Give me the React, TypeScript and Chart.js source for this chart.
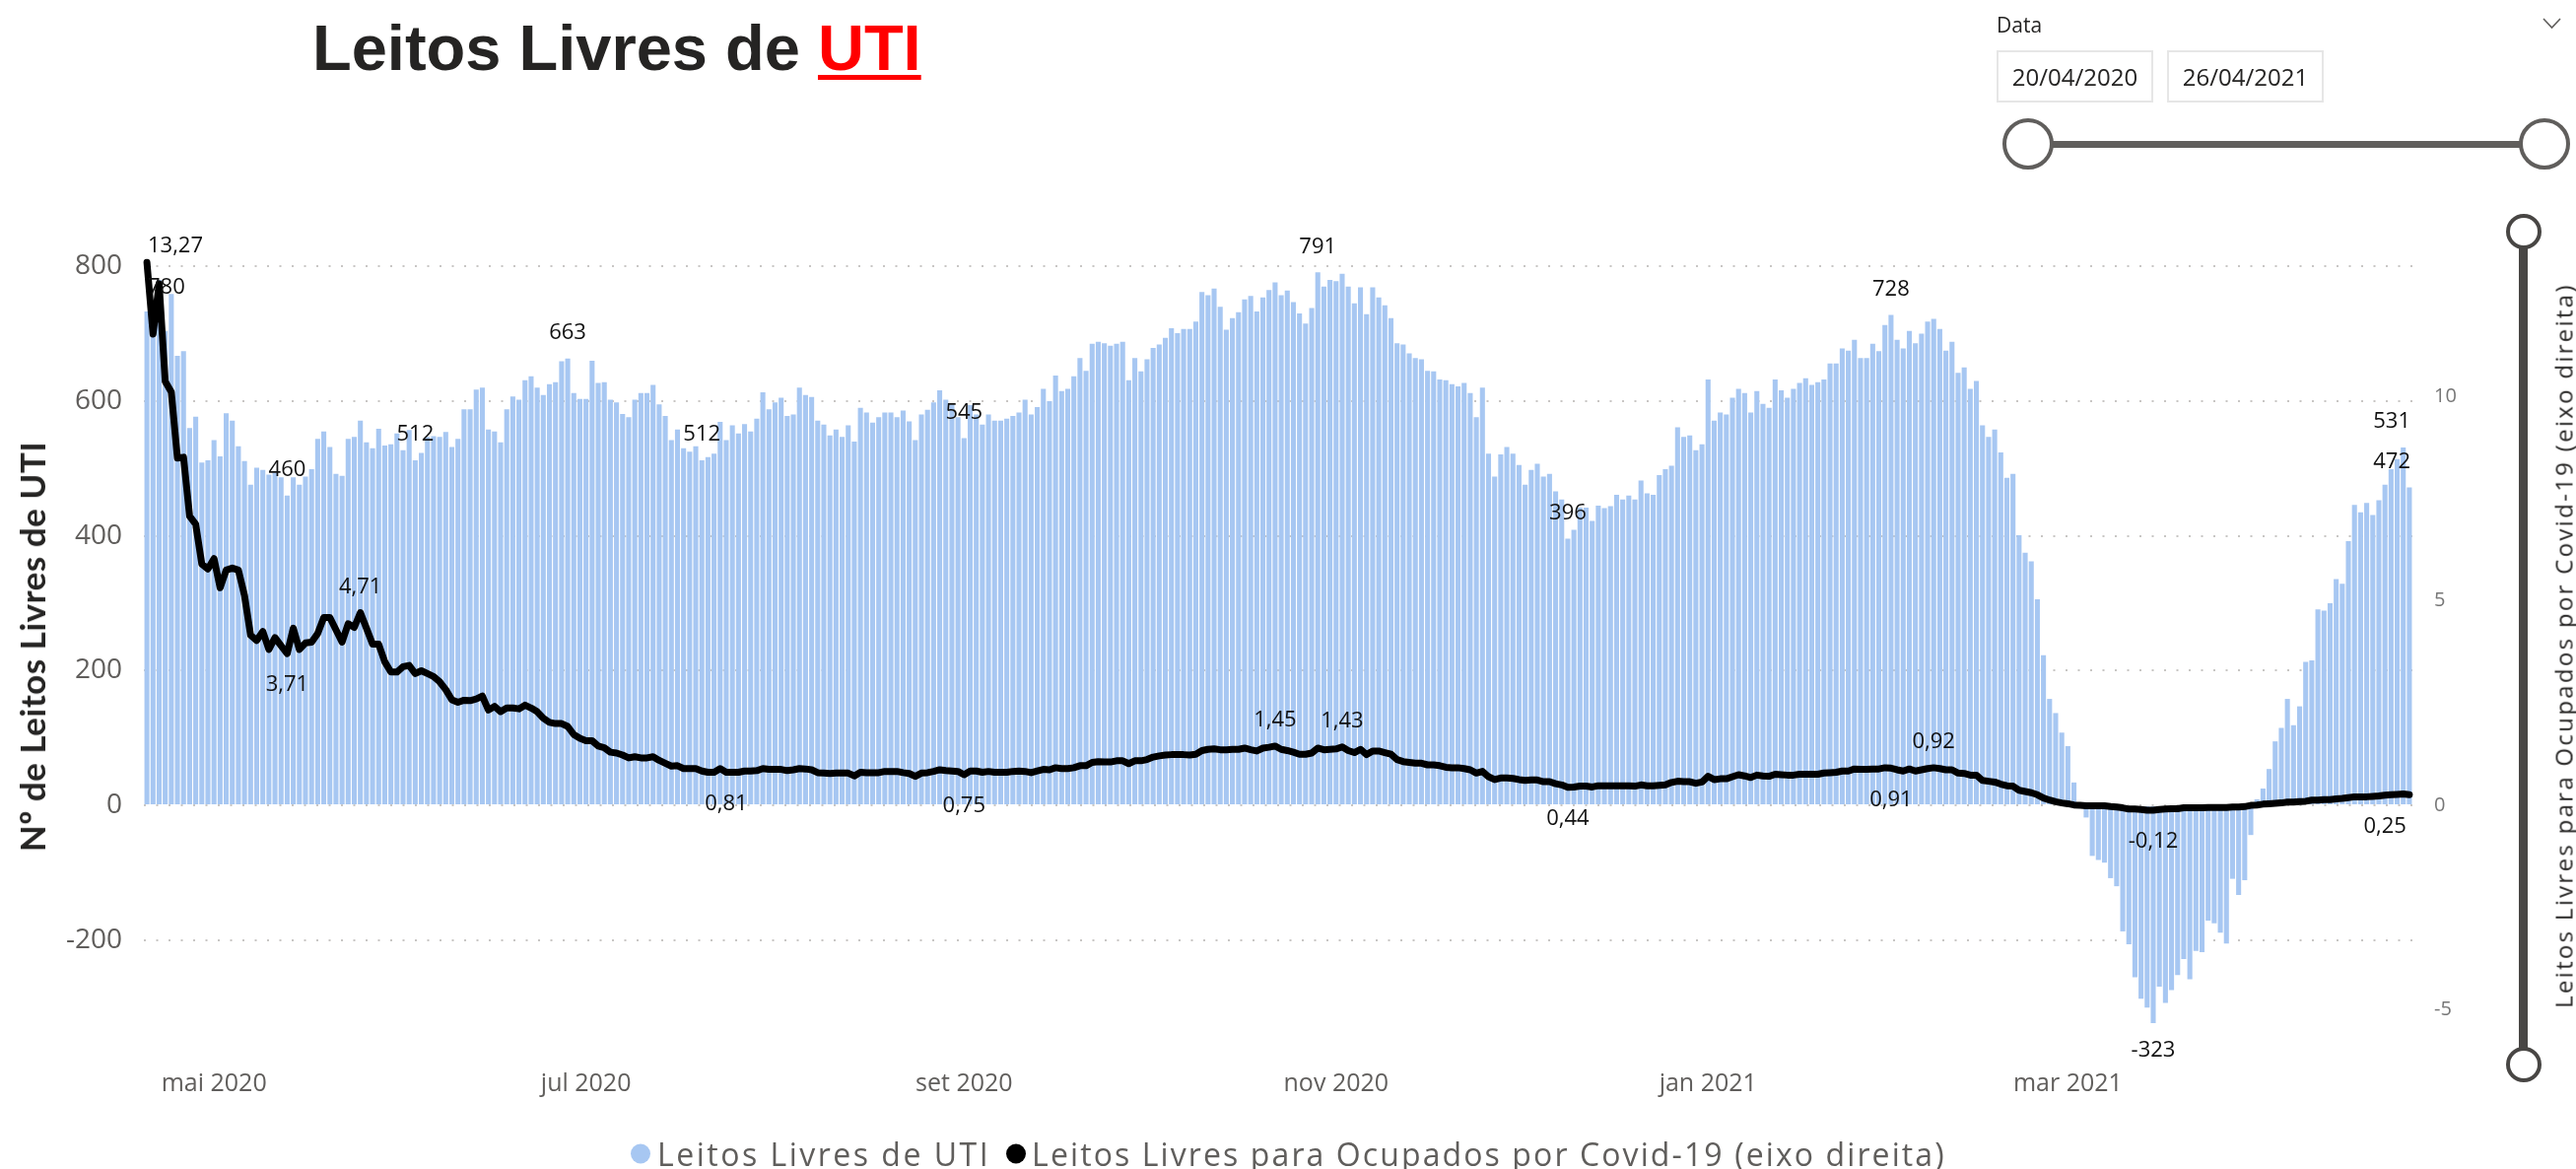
import React, { useEffect, useRef } from "react";
import { Chart, registerables } from "chart.js";

Chart.register(...registerables);

// ---------- categorias (dias de 20/04/2020 a 26/04/2021) ----------
const INICIO = Date.UTC(2020, 3, 20);
const DIA = 86400000;
const MESES = ["jan", "fev", "mar", "abr", "mai", "jun", "jul", "ago", "set", "out", "nov", "dez"];
const MESES_NO_EIXO = [0, 2, 4, 6, 8, 10];

// ---------- Leitos Livres de UTI (eixo esquerdo) ----------
const leitosAbrJun = [733, 700, 780, 704, 759, 667, 674, 560, 577, 509, 512, 542, 518, 582, 571, 533, 511, 476, 501, 498, 491, 494, 487, 460, 487, 476, 488, 499, 544, 555, 532, 492, 489, 544, 547, 571, 539, 530, 559, 534, 536, 552, 527, 557, 512, 523, 547, 548, 547, 554, 532, 544, 588, 588, 617, 620, 558, 555, 539, 588, 607, 602];
const leitosJunAgo = [631, 637, 620, 609, 625, 628, 659, 663, 612, 603, 603, 660, 627, 628, 602, 598, 581, 576, 602, 612, 612, 624, 595, 578, 542, 558, 530, 525, 533, 512, 517, 522, 569, 542, 564, 552, 566, 555, 574, 613, 588, 598, 605, 578, 580, 620, 609, 606, 571, 565, 549, 558, 547, 564, 540, 590, 583, 568, 576, 583, 583, 576, 586];
const leitosAgoOut = [570, 542, 580, 587, 598, 616, 602, 595, 576, 545, 594, 580, 565, 580, 571, 571, 574, 578, 583, 602, 580, 591, 618, 600, 638, 615, 618, 637, 664, 645, 685, 688, 686, 682, 685, 688, 631, 664, 644, 662, 679, 684, 694, 708, 701, 707, 707, 718, 762, 757, 767, 740, 706, 723, 732, 751, 756, 733, 754, 765, 776, 757, 764];
const leitosOutDez = [747, 730, 715, 738, 791, 770, 780, 778, 789, 770, 745, 769, 729, 769, 754, 742, 723, 686, 684, 671, 664, 662, 645, 644, 632, 631, 625, 622, 627, 612, 576, 620, 522, 488, 521, 532, 522, 505, 476, 498, 507, 488, 492, 466, 454, 396, 409, 442, 442, 422, 445, 441, 444, 461, 454, 460, 454, 482, 463, 461, 490, 499, 504];
const leitosDezFev = [561, 547, 549, 527, 536, 632, 571, 583, 580, 605, 618, 612, 583, 615, 596, 590, 632, 616, 605, 618, 627, 634, 624, 628, 632, 656, 656, 678, 675, 691, 664, 664, 685, 674, 713, 728, 691, 678, 704, 686, 700, 718, 722, 707, 675, 688, 642, 650, 618, 630, 564, 547, 558, 524, 486, 492, 401, 375, 362, 306, 223, 158, 137];
const leitosFevAbr = [108, 88, 34, 3, -18, -75, -81, -85, -108, -120, -187, -206, -255, -287, -300, -323, -269, -293, -274, -252, -228, -258, -216, -218, -171, -175, -189, -205, -109, -133, -111, -44, 9, 25, 54, 95, 115, 158, 119, 147, 213, 215, 291, 289, 300, 336, 329, 392, 446, 435, 449, 431, 453, 476, 499, 514, 531, 472];

// ---------- Leitos Livres para Ocupados por Covid-19 (eixo direito) ----------
const covidAbrJun = [13.27, 11.52, 12.75, 10.36, 10.1, 8.49, 8.51, 7.07, 6.87, 5.9, 5.78, 6.03, 5.32, 5.75, 5.8, 5.75, 5.13, 4.16, 4.03, 4.25, 3.81, 4.1, 3.9, 3.71, 4.33, 3.81, 3.97, 3.99, 4.2, 4.59, 4.59, 4.29, 3.99, 4.44, 4.35, 4.71, 4.33, 3.94, 3.94, 3.51, 3.26, 3.26, 3.39, 3.42, 3.22, 3.29, 3.22, 3.15, 3.02, 2.83, 2.58, 2.52, 2.57, 2.56, 2.6, 2.67, 2.33, 2.42, 2.29, 2.38, 2.38, 2.36];
const covidJunAgo = [2.45, 2.38, 2.29, 2.13, 2.03, 2.0, 2.0, 1.93, 1.73, 1.64, 1.58, 1.58, 1.45, 1.41, 1.3, 1.28, 1.23, 1.16, 1.19, 1.16, 1.16, 1.19, 1.1, 1.03, 0.96, 0.97, 0.9, 0.9, 0.9, 0.84, 0.81, 0.81, 0.9, 0.81, 0.81, 0.81, 0.84, 0.84, 0.85, 0.9, 0.88, 0.88, 0.88, 0.85, 0.87, 0.9, 0.89, 0.87, 0.8, 0.79, 0.78, 0.79, 0.79, 0.79, 0.72, 0.81, 0.8, 0.8, 0.8, 0.83, 0.83, 0.83, 0.8];
const covidAgoOut = [0.78, 0.71, 0.79, 0.8, 0.83, 0.87, 0.85, 0.84, 0.83, 0.75, 0.84, 0.84, 0.81, 0.83, 0.81, 0.81, 0.81, 0.83, 0.84, 0.83, 0.8, 0.84, 0.88, 0.87, 0.92, 0.9, 0.9, 0.92, 0.97, 0.97, 1.05, 1.07, 1.06, 1.06, 1.09, 1.09, 1.02, 1.09, 1.09, 1.12, 1.18, 1.21, 1.23, 1.24, 1.24, 1.24, 1.23, 1.25, 1.34, 1.37, 1.38, 1.36, 1.36, 1.37, 1.37, 1.4, 1.36, 1.33, 1.4, 1.42, 1.45, 1.37, 1.34];
const covidOutDez = [1.3, 1.25, 1.25, 1.28, 1.4, 1.36, 1.37, 1.38, 1.43, 1.34, 1.29, 1.37, 1.24, 1.33, 1.33, 1.29, 1.25, 1.12, 1.07, 1.05, 1.03, 1.03, 0.99, 0.99, 0.97, 0.93, 0.92, 0.92, 0.9, 0.87, 0.79, 0.83, 0.7, 0.63, 0.67, 0.67, 0.66, 0.63, 0.61, 0.62, 0.62, 0.58, 0.58, 0.53, 0.5, 0.44, 0.45, 0.47, 0.47, 0.45, 0.48, 0.48, 0.48, 0.48, 0.48, 0.48, 0.47, 0.5, 0.48, 0.48, 0.49, 0.5, 0.56];
const covidDezFev = [0.59, 0.58, 0.58, 0.54, 0.57, 0.71, 0.63, 0.65, 0.65, 0.7, 0.75, 0.72, 0.68, 0.74, 0.72, 0.71, 0.76, 0.75, 0.74, 0.74, 0.76, 0.76, 0.76, 0.76, 0.79, 0.8, 0.81, 0.84, 0.84, 0.89, 0.88, 0.88, 0.89, 0.89, 0.92, 0.91, 0.87, 0.84, 0.89, 0.84, 0.87, 0.9, 0.92, 0.9, 0.87, 0.87, 0.79, 0.78, 0.74, 0.74, 0.61, 0.59, 0.57, 0.52, 0.48, 0.47, 0.37, 0.34, 0.31, 0.26, 0.18, 0.13, 0.09];
const covidFevAbr = [0.06, 0.04, 0.01, 0.0, -0.01, -0.01, -0.01, -0.01, -0.03, -0.04, -0.06, -0.09, -0.09, -0.1, -0.12, -0.12, -0.1, -0.09, -0.08, -0.08, -0.06, -0.06, -0.06, -0.06, -0.05, -0.05, -0.05, -0.05, -0.04, -0.04, -0.03, 0.0, 0.01, 0.03, 0.04, 0.05, 0.06, 0.08, 0.08, 0.09, 0.1, 0.13, 0.13, 0.14, 0.14, 0.16, 0.17, 0.19, 0.21, 0.21, 0.21, 0.22, 0.23, 0.25, 0.26, 0.27, 0.28, 0.26];

// ---------- eixos ----------
const ticksEsquerdo = [-200, 0, 200, 400, 600, 800];
const ticksDireito = [-5, 0, 5, 10];
const ESQ_MIN = -329;
const ESQ_MAX = 812;
const RAZAO_EIXOS = 60.72;

// ---------- rótulos de dados exibidos ----------
const rotulosBarras = [2, 23, 44, 69, 91, 134, 192, 233, 286, 329, 370, 371];
const rotulosLinha = [0, 23, 35, 95, 134, 185, 196, 233, 286, 293, 329, 367];
const ladoRotuloLinha = ["acima", "abaixo", "acima", "abaixo", "abaixo", "acima", "acima", "abaixo", "abaixo", "acima", "abaixo", "abaixo"];
const rotuloBarraInterno = [2];

const leitos = [...leitosAbrJun, ...leitosJunAgo, ...leitosAgoOut, ...leitosOutDez, ...leitosDezFev, ...leitosFevAbr];
const covid = [...covidAbrJun, ...covidJunAgo, ...covidAgoOut, ...covidOutDez, ...covidDezFev, ...covidFevAbr];

const pad2 = (n: number) => String(n).padStart(2, "0");
const datas = leitos.map((_, i) => new Date(INICIO + i * DIA));
const categorias = datas.map((d) => `${pad2(d.getUTCDate())}/${pad2(d.getUTCMonth() + 1)}/${d.getUTCFullYear()}`);
const marcasMes = datas
  .map((d, i) => (d.getUTCDate() === 1 && MESES_NO_EIXO.includes(d.getUTCMonth()) ? i : -1))
  .filter((i) => i >= 0);

const AZUL = "#A7C7F2";
const CINZA_TXT = "#605E5C";
const FONTE = '"Open Sans", "Noto Sans", sans-serif';

const rotulosPlugin = {
  id: "rotulosPbi",
  afterDatasetsDraw(chart: any) {
    const ctx = chart.ctx as CanvasRenderingContext2D;
    const area = chart.chartArea;
    ctx.save();
    ctx.font = `22px ${FONTE}`;
    ctx.fillStyle = "#111111";
    ctx.textAlign = "center";
    ctx.textBaseline = "middle";
    const posX = (x: number, w: number) => Math.min(Math.max(x, area.left + w / 2 + 4), area.right - w / 2 - 2);
    const metaB = chart.getDatasetMeta(0);
    rotulosBarras.forEach((idx) => {
      const el = metaB.data[idx];
      if (!el) return;
      const v = leitos[idx];
      const txt = String(v);
      const w = ctx.measureText(txt).width;
      let y: number;
      if (rotuloBarraInterno.includes(idx)) y = el.y + 8;
      else if (v < 0) y = el.y + 28;
      else y = el.y - 26;
      y = Math.max(y, area.top - 12);
      ctx.fillText(txt, posX(el.x, w), y);
    });
    const metaL = chart.getDatasetMeta(1);
    rotulosLinha.forEach((idx, k) => {
      const el = metaL.data[idx];
      if (!el) return;
      const txt = covid[idx].toFixed(2).replace(".", ",");
      const w = ctx.measureText(txt).width;
      let y = ladoRotuloLinha[k] === "acima" ? el.y - 26 : el.y + 32;
      y = Math.max(y, area.top - 12);
      ctx.fillText(txt, posX(el.x, w), y);
    });
    ctx.restore();
  },
};

export default function App() {
  const ref = useRef<HTMLCanvasElement>(null);

  useEffect(() => {
    if (!ref.current) return;
    const chart = new Chart(ref.current, {
      type: "bar",
      data: {
        labels: categorias,
        datasets: [
          {
            type: "bar",
            label: "Leitos Livres de UTI",
            data: leitos,
            backgroundColor: AZUL,
            borderWidth: 0,
            barPercentage: 0.82,
            categoryPercentage: 1,
            yAxisID: "y",
            order: 2,
          } as any,
          {
            type: "line",
            label: "Leitos Livres para Ocupados por Covid-19 (eixo direita)",
            data: covid,
            borderColor: "#000000",
            backgroundColor: "#000000",
            borderWidth: 7,
            pointRadius: 0,
            tension: 0,
            borderJoinStyle: "round",
            borderCapStyle: "round",
            yAxisID: "y1",
            order: 1,
          } as any,
        ],
      },
      options: {
        responsive: false,
        animation: false,
        devicePixelRatio: 1,
        events: [],
        layout: { padding: { top: 262, left: 0, right: 0, bottom: 0 } },
        plugins: { legend: { display: false }, tooltip: { enabled: false }, title: { display: false } },
        scales: {
          x: {
            type: "category",
            offset: true,
            grid: { display: false, drawTicks: false },
            border: { display: false },
            afterBuildTicks: (s: any) => {
              s.ticks = marcasMes.map((v) => ({ value: v }));
            },
            afterFit: (s: any) => {
              s.height = 1186 - 1042;
            },
            ticks: {
              autoSkip: false,
              maxRotation: 0,
              minRotation: 0,
              padding: 43,
              color: CINZA_TXT,
              font: { family: FONTE, size: 25 },
              callback: (v: any) => {
                const d = datas[Number(v)];
                return `${MESES[d.getUTCMonth()]} ${d.getUTCFullYear()}`;
              },
            },
          },
          y: {
            type: "linear",
            position: "left",
            min: ESQ_MIN,
            max: ESQ_MAX,
            afterBuildTicks: (s: any) => {
              s.ticks = ticksEsquerdo.map((v) => ({ value: v }));
            },
            afterFit: (s: any) => {
              s.width = 146;
            },
            grid: { color: "#C8C6C4", lineWidth: 2, drawTicks: false },
            border: { display: false, dash: [2, 10.5] },
            ticks: {
              padding: 22,
              color: CINZA_TXT,
              font: { family: FONTE, size: 28 },
              callback: (v: any) => String(v),
            },
          },
          y1: {
            type: "linear",
            position: "right",
            min: ESQ_MIN / RAZAO_EIXOS,
            max: ESQ_MAX / RAZAO_EIXOS,
            afterBuildTicks: (s: any) => {
              s.ticks = ticksDireito.map((v) => ({ value: v }));
            },
            afterFit: (s: any) => {
              s.width = 2614 - 2448;
            },
            grid: { display: false, drawTicks: false },
            border: { display: false },
            ticks: {
              padding: 22,
              color: "#777777",
              font: { family: FONTE, size: 20 },
              callback: (v: any) => String(v),
            },
          },
        },
      } as any,
      plugins: [rotulosPlugin],
    });
    return () => chart.destroy();
  }, []);

  const abs = (s: React.CSSProperties): React.CSSProperties => ({ position: "absolute", ...s });
  const circulo = (cx: number, cy: number, d: number, b: number, cor: string) => (
    <div
      style={abs({
        left: cx - d / 2,
        top: cy - d / 2,
        width: d,
        height: d,
        boxSizing: "border-box",
        border: `${b}px solid ${cor}`,
        borderRadius: "50%",
        background: "#ffffff",
      })}
    />
  );

  return (
    <div style={abs({ left: 0, top: 0, width: 2614, height: 1186, background: "#ffffff", overflow: "hidden", fontFamily: FONTE })}>
      <canvas ref={ref} width={2614} height={1186} style={abs({ left: 0, top: 0, width: 2614, height: 1186, display: "block" })} />

      {/* título */}
      <div
        style={abs({
          left: 317,
          top: 16,
          fontFamily: '"Liberation Sans", Arial, sans-serif',
          fontWeight: 700,
          fontSize: 65,
          lineHeight: "65px",
          color: "#252423",
          whiteSpace: "nowrap",
        })}
      >
        Leitos Livres de{" "}
        <span style={{ color: "#FF0000", textDecoration: "underline", textDecorationThickness: 5, textUnderlineOffset: 5 }}>UTI</span>
      </div>

      {/* segmentação de data */}
      <div style={abs({ left: 2026, top: 11, fontSize: 21, lineHeight: "28px", color: "#252423" })}>Data</div>
      <svg style={abs({ left: 2580, top: 18 })} width={20} height={12}>
        <polyline points="1,1 9.5,10 18,1" fill="none" stroke="#605E5C" strokeWidth={1.6} />
      </svg>
      {["20/04/2020", "26/04/2021"].map((t, k) => (
        <div
          key={t}
          style={abs({
            left: k === 0 ? 2026 : 2199,
            top: 51,
            width: 159,
            height: 53,
            boxSizing: "border-box",
            border: "2px solid #E6E6E6",
            display: "flex",
            alignItems: "center",
            justifyContent: "center",
            fontSize: 24,
            color: "#252423",
          })}
        >
          {t}
        </div>
      ))}
      <div style={abs({ left: 2058, top: 142.5, width: 524, height: 7, background: "#605E5C" })} />
      {circulo(2058, 146, 52, 4, "#605E5C")}
      {circulo(2582, 146, 52, 4, "#605E5C")}

      {/* controle vertical */}
      <div style={abs({ left: 2556, top: 235, width: 9, height: 845, background: "#484644" })} />
      {circulo(2560.5, 235, 36, 4, "#484644")}
      {circulo(2560.5, 1080, 36, 4, "#484644")}

      {/* títulos dos eixos */}
      <div
        style={abs({
          left: 32,
          top: 656,
          transform: "translate(-50%, -50%) rotate(-90deg)",
          whiteSpace: "nowrap",
          fontFamily: 'Lato, "Open Sans", sans-serif',
          fontSize: 35,
          fontWeight: 700,
          letterSpacing: 0.5,
          color: "#252423",
        })}
      >
        Nº de Leitos Livres de UTI
      </div>
      <div
        style={abs({
          left: 2601,
          top: 655,
          transform: "translate(-50%, -50%) rotate(-90deg)",
          whiteSpace: "nowrap",
          fontSize: 24,
          letterSpacing: 2.3,
          color: "#252423",
        })}
      >
        Leitos Livres para Ocupados por Covid-19 (eixo direita)
      </div>

      {/* legenda */}
      <div style={abs({ left: 640, top: 1170, transform: "translateY(-50%)", display: "flex", alignItems: "center", whiteSpace: "nowrap" })}>
        <div style={{ width: 20, height: 20, borderRadius: "50%", background: AZUL, marginRight: 7 }} />
        <span style={{ fontSize: 32, letterSpacing: 2.5, color: CINZA_TXT }}>Leitos Livres de UTI</span>
        <div style={{ width: 20, height: 20, borderRadius: "50%", background: "#000000", marginLeft: 16, marginRight: 6 }} />
        <span style={{ fontSize: 32, letterSpacing: 2.1, color: CINZA_TXT }}>Leitos Livres para Ocupados por Covid-19 (eixo direita)</span>
      </div>
    </div>
  );
}
